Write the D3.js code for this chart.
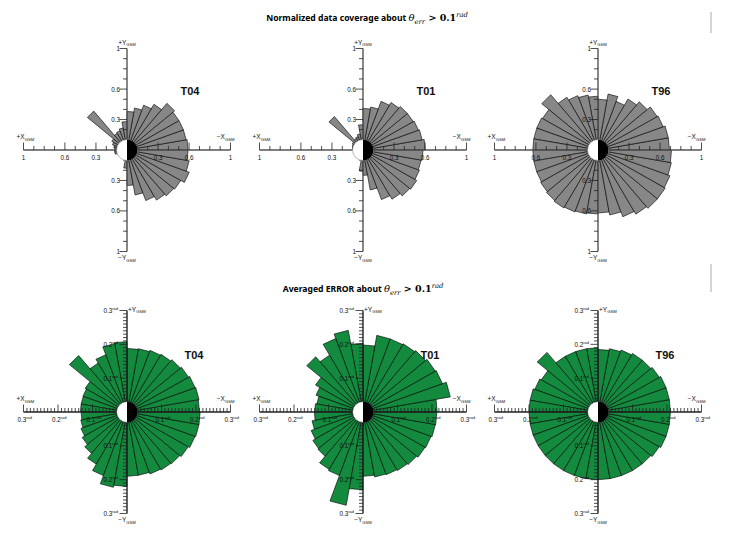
<!DOCTYPE html>
<html><head><meta charset="utf-8">
<script src="https://cdn.jsdelivr.net/npm/d3@7"></script>
<style>body{margin:0;background:#fff}svg{display:block}</style>
</head><body>
<script>
// ---------- DATA ----------
// 36 angular bins of 10 degrees; angle measured counter-clockwise from -X_GSM (screen right), +Y_GSM up
const binStarts = d3.range(0, 360, 10);
const models = ["T04", "T01", "T96"];

// Normalized data coverage (theta_err > 0.1 rad)
const coverageT04 = [0.59,0.58,0.58,0.58,0.60,0.52,0.47,0.42,0.38, 0.28,0.22,0.20,0.19,0.50,0.17,0.15,0.13,0.12,
                     0.12,0.12,0.10,0.09,0.08,0.08,0.08,0.09,0.18,0.35, 0.45,0.53,0.57,0.59,0.60,0.64,0.61,0.59];
const coverageT01 = [0.60,0.58,0.57,0.56,0.56,0.54,0.51,0.43,0.41, 0.25,0.16,0.14,0.13,0.43,0.12,0.11,0.10,0.10,
                     0.09,0.09,0.08,0.08,0.08,0.08,0.08,0.09,0.21,0.25, 0.40,0.52,0.56,0.59,0.60,0.58,0.57,0.58];
const coverageT96 = [0.69,0.69,0.67,0.66,0.62,0.58,0.51,0.56,0.50, 0.53,0.55,0.57,0.60,0.71,0.62,0.63,0.63,0.63,
                     0.63,0.63,0.63,0.64,0.65,0.66,0.65,0.64,0.63,0.62, 0.65,0.70,0.73,0.75,0.75,0.74,0.72,0.71];

// Averaged error (rad)
const errorT04 = [0.210,0.212,0.210,0.206,0.202,0.197,0.194,0.190,0.188, 0.208,0.205,0.180,0.167,0.218,0.140,0.136,0.135,0.135,
                  0.133,0.136,0.142,0.150,0.160,0.178,0.200,0.226,0.220,0.190, 0.190,0.195,0.198,0.200,0.205,0.210,0.212,0.212];
const errorT01 = [0.215,0.257,0.245,0.242,0.237,0.233,0.230,0.230,0.198, 0.203,0.245,0.231,0.194,0.213,0.159,0.145,0.136,0.140,
                  0.141,0.150,0.160,0.168,0.171,0.196,0.200,0.280,0.230,0.190, 0.195,0.197,0.200,0.203,0.208,0.210,0.213,0.214];
const errorT96 = [0.210,0.210,0.210,0.205,0.200,0.200,0.195,0.190,0.185, 0.190,0.190,0.190,0.190,0.230,0.190,0.195,0.200,0.200,
                  0.200,0.200,0.200,0.200,0.200,0.200,0.200,0.200,0.200,0.200, 0.200,0.200,0.200,0.200,0.205,0.210,0.210,0.210];

// Axis ticks
const coverageMinorTicks = [0.1,0.2,0.3,0.4,0.5,0.6,0.7,0.8,0.9,1];
const coverageLabelTicks = [0.3, 0.6, 1];
const errorMinorTicks = d3.range(1, 31).map(d => d / 100);
const errorLabelTicks = [0.1, 0.2, 0.3];

const coverageSeries = [coverageT04, coverageT01, coverageT96];
const errorSeries = [errorT04, errorT01, errorT96];

// ---------- DRAW ----------
const W = 733, H = 542;
const svg = d3.select("body").append("svg").attr("width", W).attr("height", H)
  .style("font-family", "'Liberation Sans', Arial, sans-serif");

const centersX = [127, 363, 598];
const rad = Math.PI / 180;

function axisName(g, x, y, sign, letter, anchor) {
  const t = g.append("text").attr("x", x).attr("y", y).attr("text-anchor", anchor)
    .attr("font-size", 6.5).attr("fill", "#111");
  t.append("tspan").text(sign + letter);
  t.append("tspan").attr("font-size", 4.2).attr("dy", 1.8).text("GSM");
}

function panel(cx, cy, vals, maxV, fill, isErr, name) {
  const R = 103.5, Ry = 101.5;
  const x = d3.scaleLinear().domain([-maxV, maxV]).range([cx - R, cx + R]);
  const y = d3.scaleLinear().domain([-maxV, maxV]).range([cy + Ry, cy - Ry]);
  const g = svg.append("g");
  const line = d3.line();

  const bins = vals.map((v, i) => ({ v, a0: binStarts[i] * rad, a1: (binStarts[i] + 10) * rad }));
  g.selectAll("path.bar").data(bins).join("path").attr("class", "bar")
    .attr("d", d => line([[x(0), y(0)],
      [x(d.v * Math.cos(d.a0)), y(d.v * Math.sin(d.a0))],
      [x(d.v * Math.cos(d.a1)), y(d.v * Math.sin(d.a1))]]) + "Z")
    .attr("fill", fill).attr("stroke", "#000").attr("stroke-width", 0.6)
    .attr("stroke-linejoin", "miter");

  const axisCol = isErr ? "#222" : "#555";
  g.append("line").attr("x1", x(-maxV)).attr("x2", x(maxV)).attr("y1", y(0)).attr("y2", y(0))
    .attr("stroke", axisCol).attr("stroke-width", 1.4);
  g.append("line").attr("x1", x(0)).attr("x2", x(0)).attr("y1", y(-maxV)).attr("y2", y(maxV))
    .attr("stroke", axisCol).attr("stroke-width", 1.4);

  const minor = isErr ? errorMinorTicks : coverageMinorTicks;
  const labelled = isErr ? errorLabelTicks : coverageLabelTicks;
  const isMajor = t => labelled.some(m => Math.abs(m - t) < 1e-9);
  const tickLen = t => isMajor(t) ? 7.5 : 4;
  const allT = [];
  minor.forEach(t => { allT.push(t); allT.push(-t); });
  g.selectAll("line.hx").data(allT).join("line").attr("class", "hx")
    .attr("x1", d => x(d)).attr("x2", d => x(d))
    .attr("y1", y(0)).attr("y2", d => y(0) - tickLen(Math.abs(d)))
    .attr("stroke", "#222").attr("stroke-width", 0.8);
  g.selectAll("line.vy").data(allT).join("line").attr("class", "vy")
    .attr("y1", d => y(d)).attr("y2", d => y(d))
    .attr("x1", x(0)).attr("x2", d => x(0) - tickLen(Math.abs(d)))
    .attr("stroke", "#222").attr("stroke-width", 0.8);

  const labT = [];
  labelled.forEach(t => { labT.push(t); labT.push(-t); });
  const fmt = t => (Math.abs(t) === 1 ? "1" : String(Math.abs(t)));
  labT.forEach(t => {
    const ht = g.append("text").attr("font-size", 6.3).attr("fill", "#111")
      .attr("y", y(0) + 9.5);
    if (isErr) {
      ht.attr("x", x(t) - 6).attr("text-anchor", "start");
      ht.append("tspan").text(fmt(t));
      ht.append("tspan").attr("font-size", 4).attr("dy", -3).text("rad");
    } else {
      ht.attr("x", x(t)).attr("text-anchor", "middle").text(fmt(t));
    }
    const vt = g.append("text").attr("font-size", 6.3).attr("fill", "#111")
      .attr("y", y(t) + 2.5).attr("text-anchor", "end").attr("x", x(0) - (isErr ? 9 : 7));
    if (isErr) {
      vt.append("tspan").text(fmt(t));
      vt.append("tspan").attr("font-size", 4).attr("dy", -3).text("rad");
    } else vt.text(fmt(t));
  });

  if (isErr) {
    axisName(g, x(0) + 1, y(maxV) + 1, "+", "Y", "start");
  } else {
    axisName(g, x(0), y(maxV) - 4, "+", "Y", "middle");
  }
  axisName(g, x(0), y(-maxV) + 8.5, "\u2212", "Y", "middle");
  axisName(g, x(-maxV) - 7, y(0) - 11, "+", "X", "start");
  axisName(g, x(maxV) + 4, y(0) - 11, "\u2212", "X", "end");

  g.append("text").attr("x", cx + (isErr ? 67 : 63)).attr("y", cy - (isErr ? 53 : 55))
    .attr("text-anchor", "middle").attr("font-size", 11).attr("font-weight", "bold")
    .attr("fill", "#111").text(name);

  const cr = 10.5;
  g.append("circle").attr("cx", x(0)).attr("cy", y(0)).attr("r", cr)
    .attr("fill", "#fff").attr("stroke", isErr ? "#222" : "#888").attr("stroke-width", 0.6);
  const arc = d3.arc().innerRadius(0).outerRadius(cr).startAngle(0).endAngle(Math.PI);
  g.append("path").attr("d", arc()).attr("transform", `translate(${x(0)},${y(0)})`).attr("fill", "#000");
}

models.forEach((m, i) => {
  panel(centersX[i], 150, coverageSeries[i], 1, "#878787", false, m);
  panel(centersX[i], 412, errorSeries[i], 0.3, "#138a3e", true, m);
});

function title(cx, yb, words) {
  const t = svg.append("text").attr("x", cx).attr("y", yb).attr("text-anchor", "middle").attr("fill", "#000");
  t.append("tspan").attr("font-family", "'Noto Sans', 'DejaVu Sans', sans-serif").attr("font-weight", "bold")
    .attr("font-size", 8.6).text(words + " ");
  t.append("tspan").attr("font-family", "'DejaVu Serif', 'Liberation Serif', serif").attr("font-style", "italic")
    .attr("font-size", 10).attr("fill", "#000").text("\u03b8");
  t.append("tspan").attr("font-family", "'DejaVu Serif', serif").attr("font-style", "italic")
    .attr("font-size", 6.8).attr("dy", 2.5).attr("fill", "#000").text("err");
  t.append("tspan").attr("font-family", "'DejaVu Serif', serif").attr("font-weight", "bold")
    .attr("font-size", 9.5).attr("dy", -2.5).attr("fill", "#000").text(" > 0.1");
  t.append("tspan").attr("font-family", "'DejaVu Serif', serif").attr("font-style", "italic")
    .attr("font-size", 6.8).attr("dy", -4).attr("fill", "#000").text("rad");
}
title(367, 21, "Normalized data coverage about");
title(363, 292, "Averaged ERROR about");

svg.append("line").attr("x1", 711).attr("x2", 711).attr("y1", 12).attr("y2", 33).attr("stroke", "#aaa").attr("stroke-width", 1);
svg.append("line").attr("x1", 711).attr("x2", 711).attr("y1", 264).attr("y2", 292).attr("stroke", "#aaa").attr("stroke-width", 1);
</script>
</body></html>
